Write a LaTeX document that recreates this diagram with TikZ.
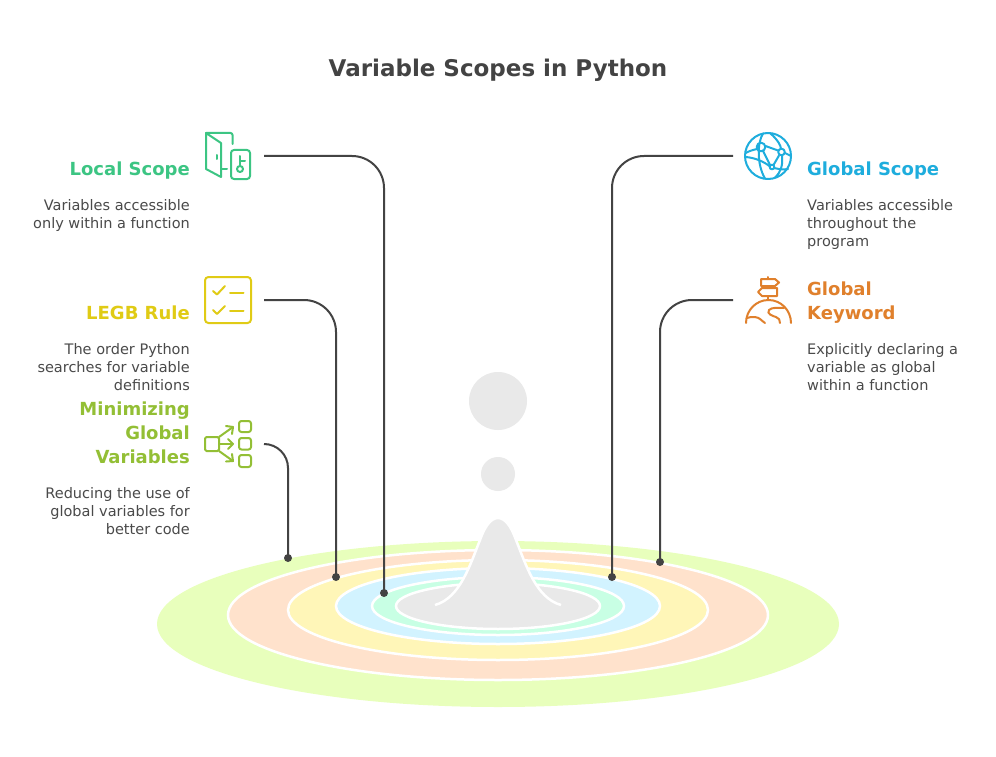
\documentclass[tikz,border=0pt]{standalone}
\usepackage{fontspec}
\setmainfont{DejaVu Sans}
\definecolor{inkc}{HTML}{434343}
\definecolor{bodyc}{HTML}{4A4A4A}
\definecolor{graya}{HTML}{E9E9E9}
\definecolor{localc}{HTML}{3CC583}
\definecolor{legbc}{HTML}{E0CB15}
\definecolor{minic}{HTML}{93BF35}
\definecolor{globc}{HTML}{1EADDD}
\definecolor{keyc}{HTML}{E0802C}
\definecolor{ringa}{HTML}{E8FFBC}
\definecolor{ringb}{HTML}{FFE2CC}
\definecolor{ringc}{HTML}{FFF6B8}
\definecolor{ringd}{HTML}{D2F3FF}
\definecolor{ringe}{HTML}{C8FFE4}
\tikzset{
  x=1pt,y=-1pt,
  ring/.style={draw=white,line width=2.5pt},
  conn/.style={draw=inkc,line width=2pt},
  enddot/.style={circle,fill=inkc,inner sep=0pt,minimum size=8pt},
  ico/.style={line width=2pt,line cap=round,line join=round},
  head/.style={font=\bfseries\fontsize{18}{24}\selectfont,inner sep=0pt,anchor=north east,align=right},
  headr/.style={font=\bfseries\fontsize{18}{24}\selectfont,inner sep=0pt,anchor=north west,align=left},
  desc/.style={font=\fontsize{14.5}{18}\selectfont,text=bodyc,inner sep=0pt,anchor=north east,align=right},
  descr/.style={font=\fontsize{14.5}{18}\selectfont,text=bodyc,inner sep=0pt,anchor=north west,align=left},
}
\begin{document}
\begin{tikzpicture}
\useasboundingbox (0,0) rectangle (996,757);
\fill[white] (0,0) rectangle (996,757);
% rings
\path[fill=ringa] (498,624) ellipse [x radius=341,y radius=83];
\path[ring,fill=ringb] (498,615) ellipse [x radius=270,y radius=65];
\path[ring,fill=ringc] (498,610) ellipse [x radius=210,y radius=50];
\path[ring,fill=ringd] (498,606) ellipse [x radius=162,y radius=38];
\path[ring,fill=ringe] (498,606) ellipse [x radius=126,y radius=29];
\path[ring,fill=graya] (498,606) ellipse [x radius=102,y radius=23];
% peak
\path[fill=graya,draw=white,line width=2.5pt]
  (435,605) .. controls (460,598) and (470,565) .. (480,540)
  .. controls (485,526) and (491,518) .. (498,518)
  .. controls (505,518) and (511,526) .. (516,540)
  .. controls (526,565) and (536,598) .. (561,605);
\path[fill=graya] (498,401) circle [radius=29];
\path[fill=graya] (498,474) circle [radius=17];
% title
\node[font=\bfseries\fontsize{23}{28}\selectfont,text=inkc,inner sep=0pt] (title) at (498,70) {Variable Scopes in Python};
% left texts
\node[head,text=localc] (h1) at (190,162) {Local Scope};
\node[desc] (d1) at (190,199) {Variables accessible\\only within a function};
\node[head,text=legbc] (h2) at (190,306) {LEGB Rule};
\node[desc] (d2) at (190,343) {The order Python\\searches for variable\\definitions};
\node[head,text=minic] (h3) at (190,402) {Minimizing\\Global\\Variables};
\node[desc] (d3) at (190,487) {Reducing the use of\\global variables for\\better code};
% right texts
\node[headr,text=globc] (h4) at (807,162) {Global Scope};
\node[descr] (d4) at (807,199) {Variables accessible\\throughout the\\program};
\node[headr,text=keyc] (h5) at (807,282) {Global\\Keyword};
\node[descr] (d5) at (807,343) {Explicitly declaring a\\variable as global\\within a function};
% connectors
\coordinate (s1) at (264,156); \node[enddot] (e1) at (384,593) {};
\coordinate (s2) at (264,300); \node[enddot] (e2) at (336,577) {};
\coordinate (s3) at (264,444); \node[enddot] (e3) at (288,558) {};
\coordinate (s4) at (733,156); \node[enddot] (e4) at (612,577) {};
\coordinate (s5) at (733,300); \node[enddot] (e5) at (660,562) {};
\draw[conn,rounded corners=32pt] (s1) -| (e1.center);
\draw[conn,rounded corners=32pt] (s2) -| (e2.center);
\draw[conn,rounded corners=24pt] (s3) -| (e3.center);
\draw[conn,rounded corners=32pt] (s4) -| (e4.center);
\draw[conn,rounded corners=32pt] (s5) -| (e5.center);
% local icon
\begin{scope}[ico,draw=localc]
\draw (206,133) -- (221,143) -- (221,177) -- (206,169) -- cycle;
\draw[rounded corners=2pt] (206,133) -- (232.5,133) -- (232.5,144);
\draw (216.7,155) -- (216.7,159);
\draw (222,169) -- (227,169);
\draw[rounded corners=3pt] (231,150) rectangle (250,179);
\draw (240,169) circle [radius=3];
\draw (240,166) -- (240,156);
\draw (240,161) -- (245,161);
\end{scope}
% legb icon
\begin{scope}[ico,draw=legbc]
\draw[rounded corners=3.5pt] (205,277) rectangle (251,323);
\draw (213,291) -- (217,294.5) -- (225,286);
\draw (230,293) -- (243.5,293);
\draw (213,310) -- (217,314) -- (225,306);
\draw (230,311) -- (243.5,311);
\end{scope}
% minimizing icon
\begin{scope}[ico,draw=minic]
\draw[rounded corners=1.5pt] (205,437) rectangle (219,451);
\draw[rounded corners=2.5pt] (239,421) rectangle (251,432);
\draw[rounded corners=2.5pt] (239,438) rectangle (251,449.5);
\draw[rounded corners=2.5pt] (239,455) rectangle (251,467);
\draw (219,437) -- (233,427);
\draw (226,426) -- (233,427) -- (232,434);
\draw (219,444) -- (233,444);
\draw (228,439) -- (233,444) -- (228,449);
\draw (219,451) -- (233,461);
\draw (232,454) -- (233,461) -- (226,461.5);
\end{scope}
% global icon
\begin{scope}[ico,draw=globc]
\draw (768,156) circle [radius=23];
\draw (761,147) circle [radius=4.3];
\draw (781.5,152) circle [radius=3.3];
\draw (772,167) circle [radius=2.3];
\draw (765.5,146) -- (778,150.5);
\draw (785,153) -- (791,156);
\draw (779,155.5) -- (773.5,165);
\draw (763,151) -- (770,165);
\draw (774,168) .. controls (779,169) and (783,170) .. (788,169);
\draw (745.5,153) .. controls (749,151) and (753,150) .. (757,149);
\draw (746,157) .. controls (755,158) and (763,161) .. (770,166.5);
\draw (763,133.5) .. controls (757,143) and (757,165) .. (765,178.5);
\draw (770,133) .. controls (778,140) and (781,146) .. (781,149);
\draw (782,156) .. controls (783,165) and (781,172) .. (775,177.5);
\end{scope}
% keyword icon
\begin{scope}[ico,draw=keyc]
\draw (746,323) arc [start angle=180,end angle=360,x radius=22.5,y radius=23];
\draw (768,277) -- (768,279);
\draw (768,286) -- (768,288);
\draw (768,296) -- (768,300);
\draw (761,279) -- (775,279) -- (779,282.5) -- (775,286) -- (761,286) -- cycle;
\draw (762,288) -- (777,288) -- (777,296) -- (762,296) -- (758,292) -- cycle;
\draw (747,318) .. controls (752,316) and (758,317) .. (760,319) .. controls (762,321) and (764,322) .. (765,323);
\draw (784,308) .. controls (778,308) and (772,307) .. (769,310) .. controls (766,314) and (773,316) .. (776,317) .. controls (779,318) and (780,320) .. (780,323);
\end{scope}
\end{tikzpicture}
\end{document}
